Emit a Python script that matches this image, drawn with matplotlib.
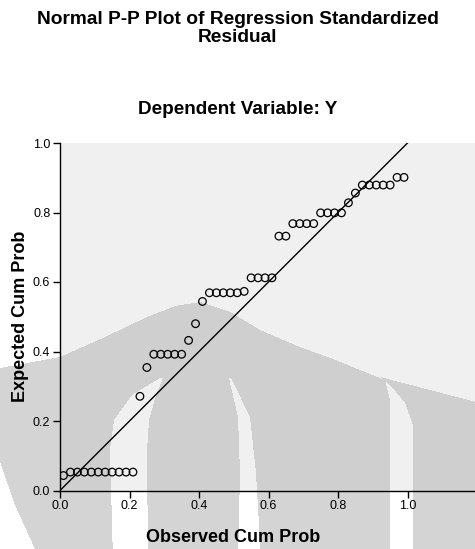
import numpy as np
import matplotlib
matplotlib.use("Agg")
import matplotlib.pyplot as plt
from matplotlib.path import Path

# ---- data ----
observed = [0.01, 0.03, 0.05, 0.07, 0.09, 0.11, 0.13, 0.15, 0.17, 0.19,
            0.21, 0.23, 0.25, 0.27, 0.29, 0.31, 0.33, 0.35, 0.37, 0.39,
            0.41, 0.43, 0.45, 0.47, 0.49, 0.51, 0.53, 0.55, 0.57, 0.59,
            0.61, 0.63, 0.65, 0.67, 0.69, 0.71, 0.73, 0.75, 0.77, 0.79,
            0.81, 0.83, 0.85, 0.87, 0.89, 0.91, 0.93, 0.95, 0.97, 0.99]
expected = [0.043, 0.053, 0.053, 0.053, 0.053, 0.053, 0.053, 0.053, 0.053, 0.053,
            0.053, 0.271, 0.354, 0.392, 0.392, 0.392, 0.392, 0.392, 0.432, 0.480,
            0.544, 0.569, 0.569, 0.569, 0.569, 0.569, 0.573, 0.612, 0.612, 0.612,
            0.612, 0.732, 0.732, 0.768, 0.768, 0.768, 0.768, 0.799, 0.799, 0.799,
            0.799, 0.828, 0.856, 0.879, 0.879, 0.879, 0.879, 0.879, 0.901, 0.901]
ticks = [0.0, 0.2, 0.4, 0.6, 0.8, 1.0]
tick_labels = ["0.0", "0.2", "0.4", "0.6", "0.8", "1.0"]
ref_line = [0.0, 1.0]

plt.rcParams['font.family'] = ['Liberation Sans', 'DejaVu Sans']

W, H = 475, 549
fig = plt.figure(figsize=(W / 100, H / 100), dpi=100)

# plot-area geometry in pixels
ax_left, ax_bottom_px, unit = 60.0, 490.5, 347.5
ax_top_px = ax_bottom_px - unit

# ---- background + watermark (decorative) ----
bg = fig.add_axes([0, 0, 1, 1], zorder=-5)
bg.set_axis_off()
X, Y = np.meshgrid(np.arange(W) + 0.5, np.arange(H) + 0.5)
pts = np.column_stack([X.ravel(), Y.ravel()])
img = np.full((H, W), 255.0)
inside = (X >= ax_left) & (Y >= ax_top_px) & (Y <= ax_bottom_px)
img[inside] = 240.0

def poly(verts):
    return Path(verts).contains_points(pts).reshape(H, W)

def band(ys, left, right):
    xl = np.interp(Y, ys, left)
    xr = np.interp(Y, ys, right)
    return (Y >= ys[0]) & (X >= xl) & (X <= xr)

arch = poly([(40, 560), (15, 505), (0, 462), (-10, 420), (0, 368), (60, 357),
             (105, 337), (147, 317), (175, 306), (200, 302), (230, 312),
             (260, 330), (300, 347), (333, 359), (360, 370), (385, 380),
             (390, 400), (390, 560)])
right_shape = poly([(380, 377), (480, 403), (480, 560), (413, 560), (413, 425),
                    (405, 403), (392, 387)])
left_band = band([378, 395, 420, 450, 560], [160, 132, 114, 110, 113],
                 [163, 156, 149, 147, 148])
right_band = band([378, 417, 473, 560], [229, 238, 240, 238],
                  [231, 250, 256, 261])
wm = (arch & ~left_band & ~right_band) | right_shape
img[wm & inside] = 207.0
img[wm & ~inside] = 212.0
rgb = np.dstack([img, img, img]) / 255.0
bg.imshow(rgb, extent=[0, W, H, 0], interpolation="nearest", aspect="auto")
bg.set_xlim(0, W)
bg.set_ylim(H, 0)

# ---- main axes ----
ax = fig.add_axes([ax_left / W, (H - ax_bottom_px) / H, (W - ax_left) / W, unit / H])
ax.set_facecolor("none")
xmax = (W - ax_left) / unit
ax.set_xlim(0, xmax)
ax.set_ylim(0, 1.0)
ax.plot(ref_line, ref_line, color="black", lw=1.0, zorder=2)
ax.scatter(observed, expected, s=30, facecolors="none", edgecolors="black",
           linewidths=0.9, zorder=3)

for s in ["top", "right"]:
    ax.spines[s].set_visible(False)
for s in ["left", "bottom"]:
    ax.spines[s].set_linewidth(1.0)
ax.set_xticks(ticks)
ax.set_xticklabels(tick_labels)
ax.set_yticks(ticks)
ax.set_yticklabels(tick_labels)
ax.tick_params(direction="out", length=5, width=1.0, labelsize=9, pad=2, colors="black")
ax.set_xlabel("Observed Cum Prob", fontsize=13, fontweight="bold", va="center")
ax.set_ylabel("Expected Cum Prob", fontsize=13, fontweight="bold", va="center")
ax.xaxis.set_label_coords((233 - ax_left) / (W - ax_left), (ax_bottom_px - 537) / unit)
ax.yaxis.set_label_coords((21 - ax_left) / (W - ax_left), 0.5)

fig.text(0.5, 1 - 20 / H, "Normal P-P Plot of Regression Standardized", ha="center", va="center",
         fontsize=13.8, fontweight="bold")
fig.text(0.5, 1 - 37 / H, "Residual", ha="center", va="center", fontsize=13.8, fontweight="bold")
fig.text(0.5, 1 - 110 / H, "Dependent Variable: Y", ha="center", va="center",
         fontsize=13.6, fontweight="bold")

fig.savefig("out.png", dpi=100)
